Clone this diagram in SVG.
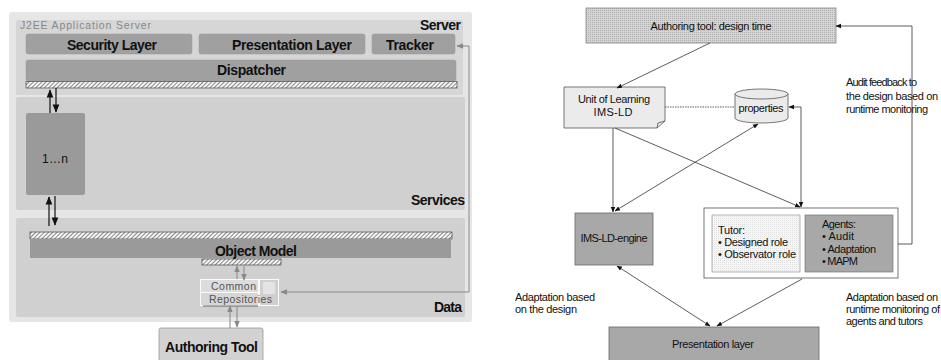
<svg xmlns="http://www.w3.org/2000/svg" width="941" height="360" viewBox="0 0 941 360">
<style>
text{font-family:"Liberation Sans",Arial,sans-serif;fill:#111}
.b{font-weight:bold;font-size:14px}
.s{font-size:11px}
.panel{fill:#d0d0d0}
.box{fill:#a0a0a0;stroke:#9a9a9a;stroke-width:0.5}
.ln{stroke:#333;stroke-width:0.8;fill:none}
.gl{stroke:#888;stroke-width:1;fill:none}
.bk{stroke:#111;stroke-width:1.2;fill:none}
</style>
<defs>
<pattern id="hatch" width="3" height="3" patternUnits="userSpaceOnUse" patternTransform="rotate(45)">
<rect width="3" height="3" fill="#f4f4f4"/><line x1="0" y1="0" x2="0" y2="3" stroke="#444" stroke-width="1.2"/>
</pattern>
<pattern id="dots" width="2" height="2" patternUnits="userSpaceOnUse">
<rect width="2" height="2" fill="#d4d4d4"/><rect width="1" height="1" fill="#b0b0b0"/>
</pattern>
<pattern id="ldots" width="2" height="2" patternUnits="userSpaceOnUse">
<rect width="2" height="2" fill="#f6f6f6"/><rect width="1" height="1" fill="#e0e0e0"/>
</pattern>
<marker id="ab" viewBox="0 0 10 10" refX="9" refY="5" markerWidth="7" markerHeight="7" orient="auto-start-reverse"><path d="M0,1 L10,5 L0,9 Z" fill="#111"/></marker>
<marker id="ag" viewBox="0 0 10 10" refX="9" refY="5" markerWidth="7" markerHeight="7" orient="auto-start-reverse"><path d="M0,1 L10,5 L0,9 Z" fill="#888"/></marker>
</defs>

<!-- LEFT DIAGRAM -->
<g id="outer"><rect x="9" y="12" width="463" height="310" rx="3" fill="#e6e6e6"/></g>
<g id="server-panel">
<rect x="16" y="20" width="447" height="75" rx="2" fill="#d6d6d6"/>
<text x="20" y="29" font-size="10.5" style="fill:#888" textLength="131">J2EE Application Server</text>
<text x="461" y="30" class="b" font-size="12" text-anchor="end" textLength="41">Server</text>
</g>
<g id="security"><rect x="26" y="34" width="166" height="20" rx="2" class="box"/><text x="67" y="50" class="b" font-size="14.5" textLength="90">Security Layer</text></g>
<g id="presentation"><rect x="199" y="34" width="166" height="20" rx="2" class="box"/><text x="232" y="50" class="b" font-size="14.5" textLength="120">Presentation Layer</text></g>
<g id="tracker"><rect x="372" y="34" width="83" height="20" rx="2" class="box"/><text x="386" y="50" class="b" font-size="14.5" textLength="48">Tracker</text></g>
<g id="dispatcher"><rect x="26" y="60" width="430" height="21" rx="2" class="box"/><text x="217" y="75" class="b" font-size="14.5" textLength="69">Dispatcher</text>
<rect x="26" y="81.5" width="431" height="6.5" fill="url(#hatch)" stroke="#333" stroke-width="0.6"/></g>
<g id="services-panel">
<rect x="16" y="97" width="449" height="113" rx="2" class="panel"/>
<text x="465" y="205" class="b" font-size="12.5" text-anchor="end" textLength="54">Services</text>
</g>
<g id="service-1n"><rect x="26" y="113" width="59" height="82" rx="2" fill="#9a9a9a"/><text x="42" y="163" font-size="12" textLength="26">1…n</text></g>
<g id="data-panel">
<rect x="16" y="218" width="449" height="99" rx="2" class="panel"/>
<text x="462" y="312" class="b" font-size="12.5" text-anchor="end" textLength="28">Data</text>
</g>
<g id="object-model">
<rect x="30" y="232" width="422" height="7" fill="url(#hatch)" stroke="#333" stroke-width="0.6"/>
<rect x="30" y="239" width="421" height="19" fill="#9a9a9a"/>
<text x="215" y="256" class="b" font-size="14.5" textLength="82">Object Model</text>
<rect x="202" y="259" width="79" height="6" fill="url(#hatch)" stroke="#333" stroke-width="0.6"/>
</g>
<g id="common-repositories">
<rect x="200" y="279" width="79" height="27" fill="#d8d8d8"/>
<rect x="200.5" y="279.5" width="58" height="13" fill="#dcdcdc" stroke="#fafafa" stroke-width="1"/>
<rect x="200.5" y="292.5" width="58" height="13" fill="#d6d6d6" stroke="#fafafa" stroke-width="1"/>
<rect x="259.5" y="279.5" width="19" height="26" fill="#cfcfcf" stroke="#fafafa" stroke-width="1"/>
<rect x="263" y="282" width="12" height="12" fill="#e4e4e4"/>
<line x1="203" y1="306" x2="258" y2="306" stroke="#444" stroke-width="0.8"/>
<text x="211" y="290" font-size="10.5" style="fill:#555" textLength="45">Common</text>
<text x="209" y="303" font-size="10.5" style="fill:#555" textLength="63">Repositories</text>
</g>
<g id="authoring-tool-left"><rect x="159" y="328" width="104" height="40" rx="2" fill="#d2d2d2" stroke="#999" stroke-width="0.8"/><text x="165" y="352" class="b" font-size="14.5" textLength="93">Authoring Tool</text></g>

<g id="left-connectors">
<line class="bk" x1="50" y1="113" x2="50" y2="90" marker-end="url(#ab)"/>
<line class="bk" x1="56" y1="88" x2="56" y2="112" marker-end="url(#ab)"/>
<line class="bk" x1="49" y1="226" x2="49" y2="197" marker-end="url(#ab)"/>
<line class="bk" x1="55" y1="196" x2="55" y2="225" marker-end="url(#ab)"/>
<line class="gl" x1="237" y1="279" x2="237" y2="266" marker-end="url(#ag)"/>
<line class="gl" x1="244" y1="266" x2="244" y2="280" marker-end="url(#ag)"/>
<line class="gl" x1="230" y1="328" x2="230" y2="306" marker-end="url(#ag)"/>
<line class="gl" x1="237" y1="306" x2="237" y2="327" marker-end="url(#ag)"/>
<polyline class="gl" points="281,292 469,292 469,46 457,46" marker-start="url(#ag)" marker-end="url(#ag)"/>
</g>

<!-- RIGHT DIAGRAM -->
<g id="authoring-design"><rect x="586" y="8" width="250" height="35" fill="url(#dots)" stroke="#888" stroke-width="0.8"/><text x="711" y="30" class="s" text-anchor="middle" textLength="121">Authoring tool: design time</text></g>
<g id="unit-of-learning">
<path d="M564,87 H665 V121 L657,128 H564 Z" fill="#ebebeb" stroke="#555" stroke-width="0.8"/>
<path d="M657,128 L658,123 L665,121" fill="none" stroke="#555" stroke-width="0.8"/>
<text x="614" y="103" class="s" font-size="11.5" text-anchor="middle" textLength="72">Unit of Learning</text>
<text x="613" y="116" class="s" font-size="11.5" text-anchor="middle" textLength="39">IMS-LD</text>
</g>
<g id="properties">
<path d="M735,94 V118 A26.5,5 0 0 0 788,118 V94" fill="#ebebeb" stroke="#555" stroke-width="0.8"/>
<ellipse cx="761.5" cy="94" rx="26.5" ry="5" fill="#ebebeb" stroke="#555" stroke-width="0.8"/>
<text x="761" y="112" class="s" font-size="11.5" text-anchor="middle" textLength="45">properties</text>
</g>
<g id="ims-ld-engine"><rect x="575" y="213" width="78" height="52" fill="#a8a8a8" stroke="#666" stroke-width="0.8"/><text x="614" y="242" class="s" font-size="11.5" text-anchor="middle" textLength="67">IMS-LD-engine</text></g>
<g id="tutor-agents">
<rect x="704" y="208" width="194" height="70" fill="#fff" stroke="#555" stroke-width="0.8"/>
<rect x="712" y="215" width="88" height="57" fill="url(#ldots)" stroke="#888" stroke-width="0.6"/>
<rect x="805" y="215" width="88" height="57" fill="#a8a8a8" stroke="#666" stroke-width="0.6"/>
<text x="718" y="234" class="s" textLength="27">Tutor:</text>
<text x="718" y="246" class="s" textLength="70">• Designed role</text>
<text x="718" y="258" class="s" textLength="78">• Observator role</text>
<text x="822" y="228" class="s" textLength="34">Agents:</text>
<text x="822" y="240" class="s" textLength="32">• Audit</text>
<text x="822" y="253" class="s" textLength="54">• Adaptation</text>
<text x="822" y="265" class="s" textLength="36">• MAPM</text>
</g>
<g id="presentation-layer"><rect x="609" y="327" width="210" height="40" fill="#a8a8a8" stroke="#666" stroke-width="0.8"/><text x="713" y="348" class="s" font-size="11.5" text-anchor="middle" textLength="82">Presentation layer</text></g>

<g id="labels">
<text x="846" y="86" class="s" textLength="71">Audit feedback to</text>
<text x="846" y="100" class="s" textLength="92">the design based on</text>
<text x="846" y="113" class="s" textLength="82">runtime monitoring</text>
<text x="515" y="301" class="s" textLength="80">Adaptation based</text>
<text x="515" y="313" class="s" textLength="62">on the design</text>
<text x="846" y="301" class="s" textLength="92">Adaptation based on</text>
<text x="846" y="313" class="s" textLength="94">runtime monitoring of</text>
<text x="846" y="325" class="s" textLength="77">agents and tutors</text>
</g>

<g id="right-connectors">
<line class="ln" x1="710" y1="43" x2="617" y2="88" marker-end="url(#ab)"/>
<line class="ln" x1="665" y1="107" x2="735" y2="107" stroke-dasharray="1.5,1" stroke-width="1.8"/>
<polyline class="ln" points="789,107 801,107 801,207" marker-start="url(#ab)" marker-end="url(#ab)"/>
<line class="ln" x1="613" y1="128" x2="613" y2="212" marker-end="url(#ab)"/>
<line class="ln" x1="615" y1="128" x2="800" y2="207" marker-end="url(#ab)"/>
<line class="ln" x1="758" y1="124" x2="615" y2="211" marker-start="url(#ab)" marker-end="url(#ab)"/>
<polyline class="ln" points="898,244 912,244 912,26 836,26" marker-end="url(#ab)"/>
<line class="ln" x1="617" y1="266" x2="710" y2="326" marker-start="url(#ab)" marker-end="url(#ab)"/>
<line class="ln" x1="802" y1="279" x2="717" y2="326" marker-end="url(#ab)"/>
</g>
</svg>
